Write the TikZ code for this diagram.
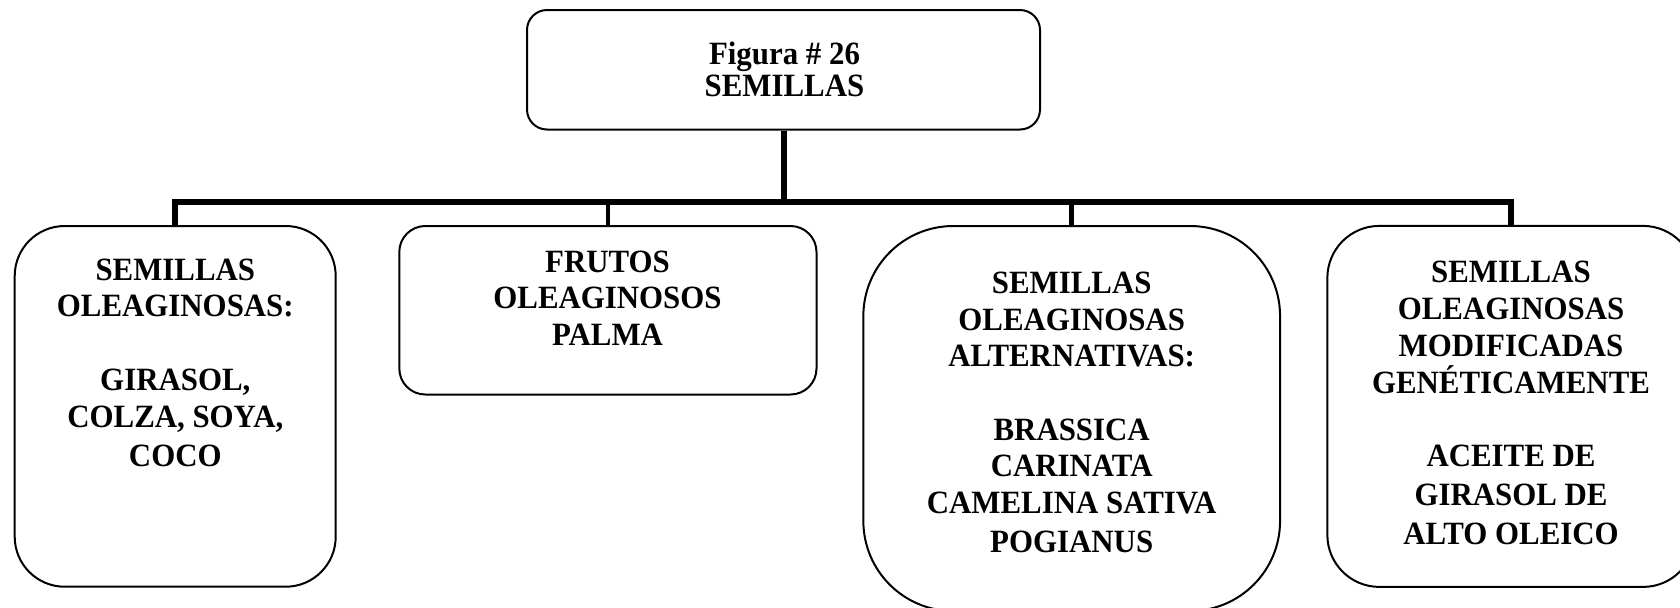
\documentclass[tikz,border=0pt]{standalone}
\usepackage{fontspec}
\setmainfont{Liberation Serif}[FakeStretch=0.95]
\tikzset{
  box/.style={draw, line width=1pt, inner sep=0pt},
  lbl/.style={font=\fontsize{16.25pt}{18.35pt}\selectfont\bfseries, align=center, inner sep=0pt, anchor=north},
  bus/.style={line width=2.75pt},
  stem/.style={line width=3pt},
  drop/.style={line width=2.25pt},
}
\begin{document}
\begin{tikzpicture}[x=0.5pt,y=-0.5pt]
\useasboundingbox (0,0) rectangle (1680,607);
\fill[white] (0,0) rectangle (1680,607);
\clip (0,0) rectangle (1680,607);
% boxes
\node[box, rounded corners=10pt, minimum width=256.5pt, minimum height=59.75pt] (top) at (783.5,69.75) {};
\node[box, rounded corners=25pt, minimum width=160.5pt, minimum height=180.35pt] (b1) at (175.2,406.35) {};
\node[box, rounded corners=13pt, minimum width=208.6pt, minimum height=84.25pt] (b2) at (607.9,310.25) {};
\node[box, rounded corners=45pt, minimum width=208.35pt, minimum height=192.5pt] (b3) at (1071.7,418.5) {};
\node[box, rounded corners=26pt, minimum width=183.85pt, minimum height=180.5pt] (b4) at (1511.2,406.4) {};
% texts
\node[lbl, font=\fontsize{16.25pt}{15.85pt}\selectfont\bfseries] (ttop) at (784.5,41.5) {Figura \# 26\\SEMILLAS};
\node[lbl] (t1) at (175.3,258.3) {SEMILLAS\\OLEAGINOSAS:\\ \\GIRASOL,\\COLZA, SOYA,\\[1.5pt]COCO};
\node[lbl] (t2) at (607.5,250.3) {FRUTOS\\OLEAGINOSOS\\PALMA};
\node[lbl] (t3) at (1071.7,271.5) {SEMILLAS\\OLEAGINOSAS\\ALTERNATIVAS:\\ \\BRASSICA\\CARINATA\\CAMELINA SATIVA\\[1pt]POGIANUS};
\node[lbl] (t4) at (1511,261) {SEMILLAS\\OLEAGINOSAS\\MODIFICADAS\\GENÉTICAMENTE\\ \\ACEITE DE\\[1pt]GIRASOL DE\\[1.5pt]ALTO OLEICO};
% connectors
\coordinate (bus) at (783.5,202);
\draw[stem] (top.south) -- (top.south |- bus);
\draw[bus, line join=miter] (b1.north) -- (b1.north |- bus) -- (b4.north |- bus) -- (b4.north);
\draw[drop] (b2.north |- bus) -- (b2.north);
\draw[drop] (b3.north |- bus) -- (b3.north);
\end{tikzpicture}
\end{document}
